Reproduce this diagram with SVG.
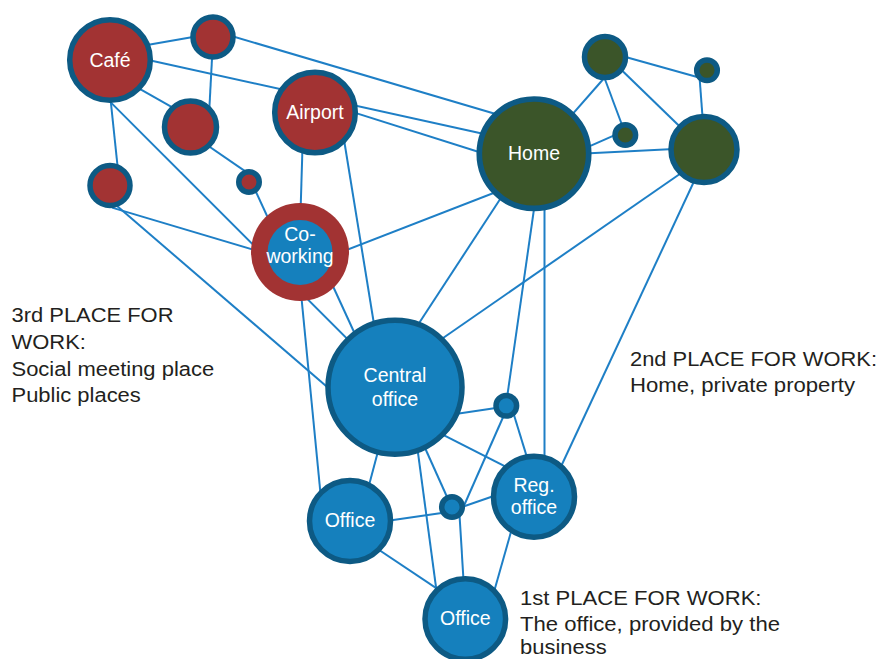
<svg xmlns="http://www.w3.org/2000/svg" width="883" height="659" viewBox="0 0 883 659">
<style>
.e{stroke:#1e7fc6;stroke-width:2;fill:none}
.n{stroke:#0d5a84;stroke-width:5.5}
.red{fill:#a23333}
.grn{fill:#3b5529}
.blu{fill:#1580bd}
.lbl{font-family:"Liberation Sans",Arial,sans-serif;font-size:19.5px;fill:#ffffff;text-anchor:middle}
.cap{font-family:"Liberation Sans",Arial,sans-serif;font-size:20px;fill:#231f20}
</style>
<rect width="883" height="659" fill="#ffffff"/>
<g id="connectors">
<line class="e" x1="120" y1="49.7" x2="213" y2="33.4"/>
<line class="e" x1="120" y1="53.8" x2="500" y2="137.4"/>
<line class="e" x1="213" y1="30.5" x2="505" y2="116.7"/>
<line class="e" x1="330" y1="104.9" x2="505" y2="160.2"/>
<line class="e" x1="130" y1="83.4" x2="190" y2="117.3"/>
<line class="e" x1="213" y1="40" x2="209" y2="115"/>
<line class="e" x1="108" y1="75" x2="119" y2="180"/>
<line class="e" x1="105" y1="96.6" x2="395" y2="386.6"/>
<line class="e" x1="112" y1="207.6" x2="300" y2="263.7"/>
<line class="e" x1="113" y1="202.5" x2="360" y2="415.2"/>
<line class="e" x1="195" y1="136.8" x2="249" y2="173.9"/>
<line class="e" x1="251" y1="181" x2="280" y2="244"/>
<line class="e" x1="303" y1="130" x2="300" y2="230"/>
<line class="e" x1="340" y1="115" x2="378.2" y2="350"/>
<line class="e" x1="320" y1="260.3" x2="520" y2="182.7"/>
<line class="e" x1="320" y1="258" x2="360" y2="345"/>
<line class="e" x1="297.8" y1="260" x2="322.1" y2="510"/>
<line class="e" x1="520" y1="168.7" x2="400" y2="352.3"/>
<line class="e" x1="537" y1="188" x2="506" y2="405"/>
<line class="e" x1="544.5" y1="190" x2="544.5" y2="480"/>
<line class="e" x1="700" y1="160" x2="420" y2="354"/>
<line class="e" x1="704" y1="160" x2="550.5" y2="489"/>
<line class="e" x1="560" y1="128.3" x2="606" y2="76"/>
<line class="e" x1="600" y1="66" x2="625" y2="133"/>
<line class="e" x1="570" y1="154.8" x2="625" y2="130.6"/>
<line class="e" x1="560" y1="154.8" x2="704" y2="147.5"/>
<line class="e" x1="605" y1="54" x2="704" y2="150"/>
<line class="e" x1="605" y1="51.3" x2="707" y2="79.8"/>
<line class="e" x1="699" y1="70" x2="705" y2="150"/>
<line class="e" x1="395" y1="423" x2="506" y2="406.5"/>
<line class="e" x1="510.9" y1="405" x2="536" y2="486.6"/>
<line class="e" x1="508" y1="406" x2="463.4" y2="507"/>
<line class="e" x1="395" y1="410.4" x2="534" y2="481.1"/>
<line class="e" x1="412" y1="419" x2="452" y2="508"/>
<line class="e" x1="410" y1="393" x2="440" y2="617"/>
<line class="e" x1="385" y1="425" x2="359.5" y2="521"/>
<line class="e" x1="350" y1="526.2" x2="452" y2="511.5"/>
<line class="e" x1="452" y1="510.5" x2="534" y2="482"/>
<line class="e" x1="459" y1="507" x2="466" y2="620"/>
<line class="e" x1="350" y1="530.5" x2="465" y2="607.3"/>
<line class="e" x1="520" y1="500" x2="486" y2="620"/>
</g>
<g id="cafe"><circle class="n red" cx="110" cy="60" r="40.3"/><text class="lbl" x="110" y="67.3">Café</text></g>
<g id="red-top"><circle class="n red" cx="213" cy="37" r="20"/></g>
<g id="red-mid"><circle class="n red" cx="190.5" cy="127" r="26"/></g>
<g id="airport"><circle class="n red" cx="315" cy="112.5" r="40.3"/><text class="lbl" x="315" y="119">Airport</text></g>
<g id="red-left"><circle class="n red" cx="110" cy="185.5" r="20"/></g>
<g id="red-tiny"><circle class="n red" cx="249" cy="182" r="10.25"/></g>
<g id="coworking"><circle class="red" cx="300" cy="252" r="49"/><circle class="blu" cx="300" cy="252.5" r="32.5"/><text class="lbl" x="300" y="240.5">Co-</text><text class="lbl" x="300" y="263">working</text></g>
<g id="home"><circle class="n grn" cx="534" cy="153.7" r="54.7" style="stroke-width:5.7"/><text class="lbl" x="534" y="160">Home</text></g>
<g id="green-top"><circle class="n grn" cx="605" cy="57" r="20.5"/></g>
<g id="green-tiny-right"><circle class="n grn" cx="707" cy="70.3" r="10.3"/></g>
<g id="green-tiny-mid"><circle class="n grn" cx="625.3" cy="135" r="10.3"/></g>
<g id="green-right"><circle class="n grn" cx="704" cy="149.5" r="33"/></g>
<g id="central-office"><circle class="n blu" cx="395" cy="387.3" r="67"/><text class="lbl" x="395" y="382.3">Central</text><text class="lbl" x="395" y="405.7">office</text></g>
<g id="blue-small-upper"><circle class="n blu" cx="506.3" cy="405.8" r="10.3"/></g>
<g id="reg-office"><circle class="n blu" cx="534" cy="496.7" r="40.5"/><text class="lbl" x="534" y="491.7">Reg.</text><text class="lbl" x="534" y="514">office</text></g>
<g id="blue-small-lower"><circle class="n blu" cx="452" cy="507" r="10.3"/></g>
<g id="office-left"><circle class="n blu" cx="350" cy="521" r="40.5"/><text class="lbl" x="350" y="527.3">Office</text></g>
<g id="office-bottom"><circle class="n blu" cx="465.3" cy="619" r="40.3"/><text class="lbl" x="465.3" y="625">Office</text></g>
<g id="label-3rd">
<text class="cap" x="11.5" y="321.7" textLength="162" lengthAdjust="spacingAndGlyphs">3rd PLACE FOR</text>
<text class="cap" x="11.5" y="349" textLength="74.4" lengthAdjust="spacingAndGlyphs">WORK:</text>
<text class="cap" x="11.5" y="375.7" textLength="202.7" lengthAdjust="spacingAndGlyphs">Social meeting place</text>
<text class="cap" x="11.5" y="401.7" textLength="129.3" lengthAdjust="spacingAndGlyphs">Public places</text>
</g>
<g id="label-2nd">
<text class="cap" x="630" y="365.7" textLength="247" lengthAdjust="spacingAndGlyphs">2nd PLACE FOR WORK:</text>
<text class="cap" x="630" y="391.7" textLength="225" lengthAdjust="spacingAndGlyphs">Home, private property</text>
</g>
<g id="label-1st">
<text class="cap" x="520" y="605" textLength="241.5" lengthAdjust="spacingAndGlyphs">1st PLACE FOR WORK:</text>
<text class="cap" x="520" y="630.5" textLength="260" lengthAdjust="spacingAndGlyphs">The office, provided by the</text>
<text class="cap" x="520" y="654" textLength="86.6" lengthAdjust="spacingAndGlyphs">business</text>
</g>
</svg>
